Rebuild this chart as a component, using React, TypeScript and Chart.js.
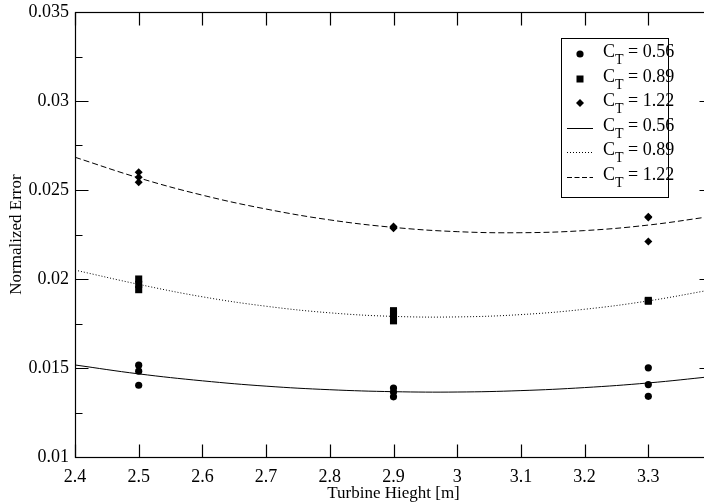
import React, { useEffect, useRef } from "react";
import { Chart, registerables } from "chart.js";

Chart.register(...registerables);

const FONT = '"Liberation Serif", "Times New Roman", serif';

// Thrust coefficients (legend values)
const ctValues = ["0.56", "0.89", "1.22"];

// Measured points, C_T = 0.56
const measX056 = [2.5, 2.5, 2.5, 2.9, 2.9, 2.9, 3.3, 3.3, 3.3];
const measY056 = [0.01516, 0.01482, 0.01403, 0.01387, 0.01365, 0.01338, 0.01501, 0.01407, 0.01341];

// Measured points, C_T = 0.89
const measX089 = [2.5, 2.5, 2.5, 2.9, 2.9, 2.9, 3.3, 3.3];
const measY089 = [0.02, 0.0197, 0.0194, 0.01822, 0.018, 0.01765, 0.0188, 0.01875];

// Measured points, C_T = 1.22
const measX122 = [2.5, 2.5, 2.5, 2.9, 2.9, 2.9, 3.3, 3.3, 3.3];
const measY122 = [0.026, 0.02572, 0.02543, 0.02295, 0.0229, 0.02285, 0.0235, 0.02345, 0.0221];

// Fitted curves
const fitX = [2.4, 2.5, 2.6, 2.7, 2.8, 2.9, 3.0, 3.1, 3.2, 3.3, 3.4];
const fit056 = [0.01517, 0.01467, 0.01428, 0.01398, 0.01378, 0.01367, 0.01365, 0.01373, 0.0139, 0.01416, 0.01452];
const fit089 = [0.0205, 0.0197, 0.019, 0.01847, 0.0181, 0.0179, 0.01787, 0.018, 0.0183, 0.01877, 0.0194];
const fit122 = [0.02684, 0.02568, 0.02471, 0.02393, 0.02332, 0.0229, 0.02266, 0.0226, 0.02272, 0.02303, 0.02352];

// Axis ticks
const xTickValues = [2.4, 2.5, 2.6, 2.7, 2.8, 2.9, 3.0, 3.1, 3.2, 3.3, 3.4];
const xTickLabels = ["2.4", "2.5", "2.6", "2.7", "2.8", "2.9", "3", "3.1", "3.2", "3.3", ""];
const yTickValues = [0.01, 0.015, 0.02, 0.025, 0.03, 0.035];
const yTickLabels = ["0.01", "0.015", "0.02", "0.025", "0.03", "0.035"];
const yMinorTicks = [0.0125, 0.0175, 0.0225, 0.0275, 0.0325];
const xMin = 2.4;
const xMax = 3.4;
const yMin = 0.01;
const yMax = 0.035;
const xTitle = "Turbine Hieght [m]";
const yTitle = "Normalized Error";

const MAJOR_TICK = 13;
const MINOR_TICK = 7;

const CANVAS_W = 730;
const CANVAS_H = 504;

const pts = (xs: number[], ys: number[]) => xs.map((x, i) => ({ x, y: ys[i] }));

const labelFor = (values: number[], labels: string[], v: number) => {
  for (let i = 0; i < values.length; i++) {
    if (Math.abs(values[i] - v) < 1e-6) return labels[i];
  }
  return "";
};

function drawFrame(chart: any) {
  const ctx: CanvasRenderingContext2D = chart.ctx;
  const area = chart.chartArea;
  const xs = chart.scales.x;
  const ys = chart.scales.y;
  if (!area || !xs || !ys) return;
  const L = Math.round(area.left) + 0.5;
  const R = Math.round(area.right) + 0.5;
  const T = Math.round(area.top) + 0.5;
  const B = Math.round(area.bottom) + 0.5;
  ctx.save();
  ctx.setLineDash([]);
  ctx.lineWidth = 1.2;
  ctx.strokeStyle = "#000000";
  ctx.strokeRect(L, T, R - L, B - T);
  xTickValues.forEach((v) => {
    const px = Math.round(xs.getPixelForValue(v)) + 0.5;
    ctx.beginPath();
    ctx.moveTo(px, B);
    ctx.lineTo(px, B - MAJOR_TICK);
    ctx.moveTo(px, T);
    ctx.lineTo(px, T + MAJOR_TICK);
    ctx.stroke();
  });
  yTickValues.forEach((v) => {
    const py = Math.round(ys.getPixelForValue(v)) + 0.5;
    ctx.beginPath();
    ctx.moveTo(L, py);
    ctx.lineTo(L + MAJOR_TICK, py);
    ctx.moveTo(R, py);
    ctx.lineTo(R - MAJOR_TICK, py);
    ctx.stroke();
  });
  yMinorTicks.forEach((v) => {
    const pm = Math.round(ys.getPixelForValue(v)) + 0.5;
    ctx.beginPath();
    ctx.moveTo(L, pm);
    ctx.lineTo(L + MINOR_TICK, pm);
    ctx.moveTo(R, pm);
    ctx.lineTo(R - MINOR_TICK, pm);
    ctx.stroke();
  });
  ctx.restore();
}

const frameTicks = {
  id: "frameTicks",
  afterDraw(chart: any) {
    drawFrame(chart);
  },
};

function LegendSymbol({ kind }: { kind: number }) {
  const common = { width: 26, height: 24 };
  if (kind === 0)
    return (
      <svg {...common}>
        <circle cx={13} cy={12} r={3.6} fill="#000" />
      </svg>
    );
  if (kind === 1)
    return (
      <svg {...common}>
        <rect x={9.5} y={8.5} width={7} height={7} fill="#000" />
      </svg>
    );
  if (kind === 2)
    return (
      <svg {...common}>
        <polygon points="13,8 17,12 13,16 9,12" fill="#000" />
      </svg>
    );
  const dash = kind === 3 ? undefined : kind === 4 ? "1 2" : "5 2.5";
  return (
    <svg {...common}>
      <line x1={0} y1={12.5} x2={26} y2={12.5} stroke="#000" strokeWidth={1} strokeDasharray={dash} />
    </svg>
  );
}

export default function App() {
  const canvasRef = useRef<HTMLCanvasElement | null>(null);

  useEffect(() => {
    if (!canvasRef.current) return;
    const chart = new Chart(canvasRef.current, {
      type: "scatter",
      data: {
        datasets: [
          {
            type: "scatter",
            label: "CT = 0.56",
            data: pts(measX056, measY056),
            pointStyle: "circle",
            pointRadius: 3.6,
            pointBorderWidth: 0,
            backgroundColor: "#000",
            borderColor: "#000",
          },
          {
            type: "scatter",
            label: "CT = 0.89",
            data: pts(measX089, measY089),
            pointStyle: "rect",
            pointRadius: 5,
            pointBorderWidth: 0,
            backgroundColor: "#000",
            borderColor: "#000",
          },
          {
            type: "scatter",
            label: "CT = 1.22",
            data: pts(measX122, measY122),
            pointStyle: "rectRot",
            pointRadius: 4,
            pointBorderWidth: 0,
            backgroundColor: "#000",
            borderColor: "#000",
          },
          {
            type: "line",
            label: "fit 0.56",
            data: pts(fitX, fit056),
            borderColor: "#000",
            borderWidth: 1,
            pointRadius: 0,
            tension: 0.4,
            fill: false,
          },
          {
            type: "line",
            label: "fit 0.89",
            data: pts(fitX, fit089),
            borderColor: "#000",
            borderWidth: 1,
            borderDash: [1, 2],
            pointRadius: 0,
            tension: 0.4,
            fill: false,
          },
          {
            type: "line",
            label: "fit 1.22",
            data: pts(fitX, fit122),
            borderColor: "#000",
            borderWidth: 1,
            borderDash: [6, 3],
            pointRadius: 0,
            tension: 0.4,
            fill: false,
          },
        ],
      } as any,
      options: {
        animation: false,
        responsive: false,
        devicePixelRatio: 1,
        layout: { padding: { top: 12, right: CANVAS_W - 712, left: 0, bottom: 0 } },
        plugins: { legend: { display: false }, tooltip: { enabled: false } },
        scales: {
          x: {
            type: "linear",
            min: xMin,
            max: xMax,
            grid: { display: false, drawTicks: false },
            border: { display: false },
            afterBuildTicks: (s: any) => {
              s.ticks = xTickValues.map((v) => ({ value: v }));
            },
            ticks: {
              autoSkip: false,
              maxRotation: 0,
              padding: 9,
              color: "#000",
              font: { family: FONT, size: 18 },
              callback: (v: any) => labelFor(xTickValues, xTickLabels, Number(v)),
            },
            title: {
              display: true,
              text: xTitle,
              color: "#000",
              font: { family: FONT, size: 17 },
              padding: { top: 0, bottom: 0 },
            },
            afterFit: (s: any) => {
              s.height = 47;
              s.paddingLeft = 0;
              s.paddingRight = 0;
            },
          },
          y: {
            type: "linear",
            min: yMin,
            max: yMax,
            grid: { display: false, drawTicks: false },
            border: { display: false },
            afterBuildTicks: (s: any) => {
              s.ticks = yTickValues.map((v) => ({ value: v }));
            },
            ticks: {
              autoSkip: false,
              padding: 6,
              color: "#000",
              font: { family: FONT, size: 18 },
              callback: (v: any) => labelFor(yTickValues, yTickLabels, Number(v)),
            },
            title: {
              display: true,
              text: yTitle,
              color: "#000",
              font: { family: FONT, size: 17 },
              padding: { top: 6, bottom: 0 },
            },
            afterFit: (s: any) => {
              s.width = 75;
              s.paddingTop = 0;
              s.paddingBottom = 0;
            },
          },
        },
      } as any,
      plugins: [frameTicks],
    });
    return () => chart.destroy();
  }, []);

  const rowCenters = [16, 40.6, 65.2, 89.8, 114.4, 139];
  const legendRows = [0, 1, 2, 3, 4, 5];

  return (
    <div
      style={{
        position: "fixed",
        left: 0,
        top: 0,
        width: 704,
        height: 504,
        overflow: "hidden",
        background: "#fff",
      }}
    >
      <canvas ref={canvasRef} width={CANVAS_W} height={CANVAS_H} style={{ display: "block", width: CANVAS_W, height: CANVAS_H }} />
      <div
        style={{
          position: "absolute",
          left: 561,
          top: 38,
          width: 108,
          height: 160,
          boxSizing: "border-box",
          border: "1px solid #000",
          background: "#fff",
          fontFamily: FONT,
          fontSize: 18,
          color: "#000",
        }}
      >
        {legendRows.map((k) => (
          <div
            key={k}
            style={{ position: "absolute", left: 0, top: rowCenters[k] - 12 - 1, height: 24, width: 106 }}
          >
            <div style={{ position: "absolute", left: 5, top: 0 }}>
              <LegendSymbol kind={k} />
            </div>
            <div
              style={{
                position: "absolute",
                left: 41,
                top: -3,
                lineHeight: "24px",
                whiteSpace: "nowrap",
              }}
            >
              C<span style={{ fontSize: 14, position: "relative", top: 7 }}>T</span> = {ctValues[k % 3]}
            </div>
          </div>
        ))}
      </div>
    </div>
  );
}
